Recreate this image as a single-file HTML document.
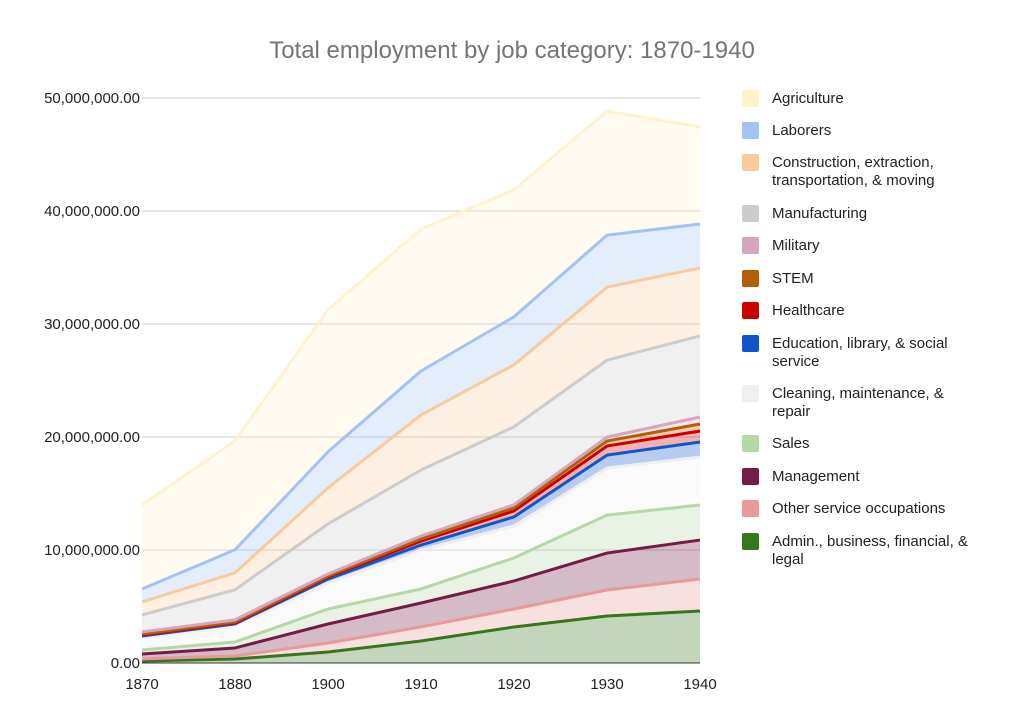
<!DOCTYPE html>
<html><head><meta charset="utf-8"><style>
body{margin:0;background:#fff;}
svg{display:block;font-family:"Liberation Sans",sans-serif;}
</style></head><body>
<svg id="chart" width="1024" height="727" viewBox="0 0 1024 727">
<text x="512" y="58" text-anchor="middle" font-size="24" fill="#757575">Total employment by job category: 1870-1940</text>
<g id="grid"></g><g id="areas"></g><g id="lines"></g><g id="axes"></g><g id="legend"></g>
</svg>
<script>
const categories = ["1870","1880","1900","1910","1920","1930","1940"];
const admin = [0.18,0.35,0.97,1.95,3.19,4.16,4.6];
const otherService = [0.18,0.27,0.8,1.24,1.59,2.3,2.83];
const management = [0.44,0.71,1.68,2.12,2.48,3.27,3.45];
const sales = [0.35,0.53,1.33,1.24,2.04,3.36,3.1];
const cleaning = [1.06,1.42,2.3,3.45,2.83,4.16,4.25];
const education = [0.18,0.18,0.35,0.44,0.8,1.15,1.33];
const healthcare = [0.09,0.09,0.18,0.35,0.53,0.8,0.97];
const stem = [0.09,0.09,0.09,0.18,0.27,0.44,0.62];
const military = [0.18,0.18,0.18,0.27,0.27,0.35,0.62];
const manufacturing = [1.5,2.66,4.43,5.84,6.9,6.81,7.17];
const construction = [1.15,1.5,3.19,4.87,5.49,6.46,6.02];
const laborers = [1.15,2.04,3.19,3.89,4.25,4.6,3.89];
const agriculture = [7.43,9.65,12.57,12.57,11.24,10.97,8.58];
const yTicks = [0,10,20,30,40,50];
const yTickLabels = ["0.00","10,000,000.00","20,000,000.00","30,000,000.00","40,000,000.00","50,000,000.00"];

const NS="http://www.w3.org/2000/svg";
const X0=142,X1=700,Y0=663,Y50=98;
const xs=i=>X0+i*(X1-X0)/(categories.length-1);
const ys=v=>Y0-v*(Y0-Y50)/50;
function mk(tag,attrs,parent){const e=document.createElementNS(NS,tag);for(const k in attrs)e.setAttribute(k,attrs[k]);parent.appendChild(e);return e;}

const series=[
 {name:"Admin., business, financial, & legal",key:"admin-area",data:admin,c:"#38761d",w:3},
 {name:"Other service occupations",key:"other-service-area",data:otherService,c:"#ea9999",w:3},
 {name:"Management",key:"management-area",data:management,c:"#741b47",w:3},
 {name:"Sales",key:"sales-area",data:sales,c:"#b6d7a8",w:3},
 {name:"Cleaning, maintenance, & repair",key:"cleaning-area",data:cleaning,c:"#efefef",w:3},
 {name:"Education, library, & social service",key:"education-area",data:education,c:"#1155cc",w:3},
 {name:"Healthcare",key:"healthcare-area",data:healthcare,c:"#cc0000",w:3},
 {name:"STEM",key:"stem-area",data:stem,c:"#b45f06",w:3},
 {name:"Military",key:"military-area",data:military,c:"#d5a6bd",w:3},
 {name:"Manufacturing",key:"manufacturing-area",data:manufacturing,c:"#cccccc",w:3},
 {name:"Construction, extraction, transportation, & moving",key:"construction-area",data:construction,c:"#f9cb9c",w:3},
 {name:"Laborers",key:"laborers-area",data:laborers,c:"#a4c2f4",w:3},
 {name:"Agriculture",key:"agriculture-area",data:agriculture,c:"#fff2cc",w:3}
];

const grid=document.getElementById('grid');
yTicks.forEach((t,i)=>{
 const l=mk('line',{x1:X0,x2:X1,y1:ys(t),y2:ys(t),stroke:t===0?'#333':'#ccc','stroke-width':1},grid);
 
 
 const tx=mk('text',{x:140,y:ys(t)+5,'text-anchor':'end','font-size':15,fill:'#222'},grid);
 tx.textContent=yTickLabels[i];
 
 
});

const areas=document.getElementById('areas'),lines=document.getElementById('lines');
let base=categories.map(()=>0);
series.forEach(s=>{
 const top=base.map((b,i)=>b+s.data[i]);
 let d='M'+categories.map((_,i)=>xs(i)+','+ys(top[i])).join('L');
 d+='L'+categories.map((_,i)=>i).reverse().map(i=>xs(i)+','+ys(base[i])).join('L')+'Z';
 const a=mk('path',{d:d,fill:s.c,'fill-opacity':0.3},areas);
 
 
 const ln=mk('polyline',{points:categories.map((_,i)=>xs(i)+','+ys(top[i])).join(' '),fill:'none',stroke:s.c,'stroke-width':s.w,'stroke-linejoin':'round'},lines);
 
 
 base=top;
});

const axes=document.getElementById('axes');
mk('line',{x1:X0,x2:X1,y1:Y0,y2:Y0,stroke:'#333','stroke-width':1},axes);
categories.forEach((c,i)=>{
 const t=mk('text',{x:xs(i),y:689,'text-anchor':'middle','font-size':15,fill:'#222'},axes);
 t.textContent=c;
 
 
});

const legendItems=[
 ["Agriculture","#fff2cc",98],["Laborers","#a4c2f4",130],["Construction, extraction,|transportation, & moving","#f9cb9c",162],
 ["Manufacturing","#cccccc",213],["Military","#d5a6bd",245],["STEM","#b45f06",278],["Healthcare","#cc0000",310],
 ["Education, library, & social|service","#1155cc",343],["Cleaning, maintenance, &|repair","#efefef",393],["Sales","#b6d7a8",443],
 ["Management","#741b47",476],["Other service occupations","#ea9999",508],["Admin., business, financial, &|legal","#38761d",541]];
const lg=document.getElementById('legend');
legendItems.forEach(([n,c,y])=>{
 const g=mk('g',{},lg);
 
 
 mk('rect',{x:742,y:y-8,width:17,height:17,rx:2,fill:c},g);
 n.split('|').forEach((p,j)=>{
  const t=mk('text',{x:772,y:y+5+j*18,'font-size':15,fill:'#222'},g);
  t.textContent=p;
 });
});
</script>
</body></html>
